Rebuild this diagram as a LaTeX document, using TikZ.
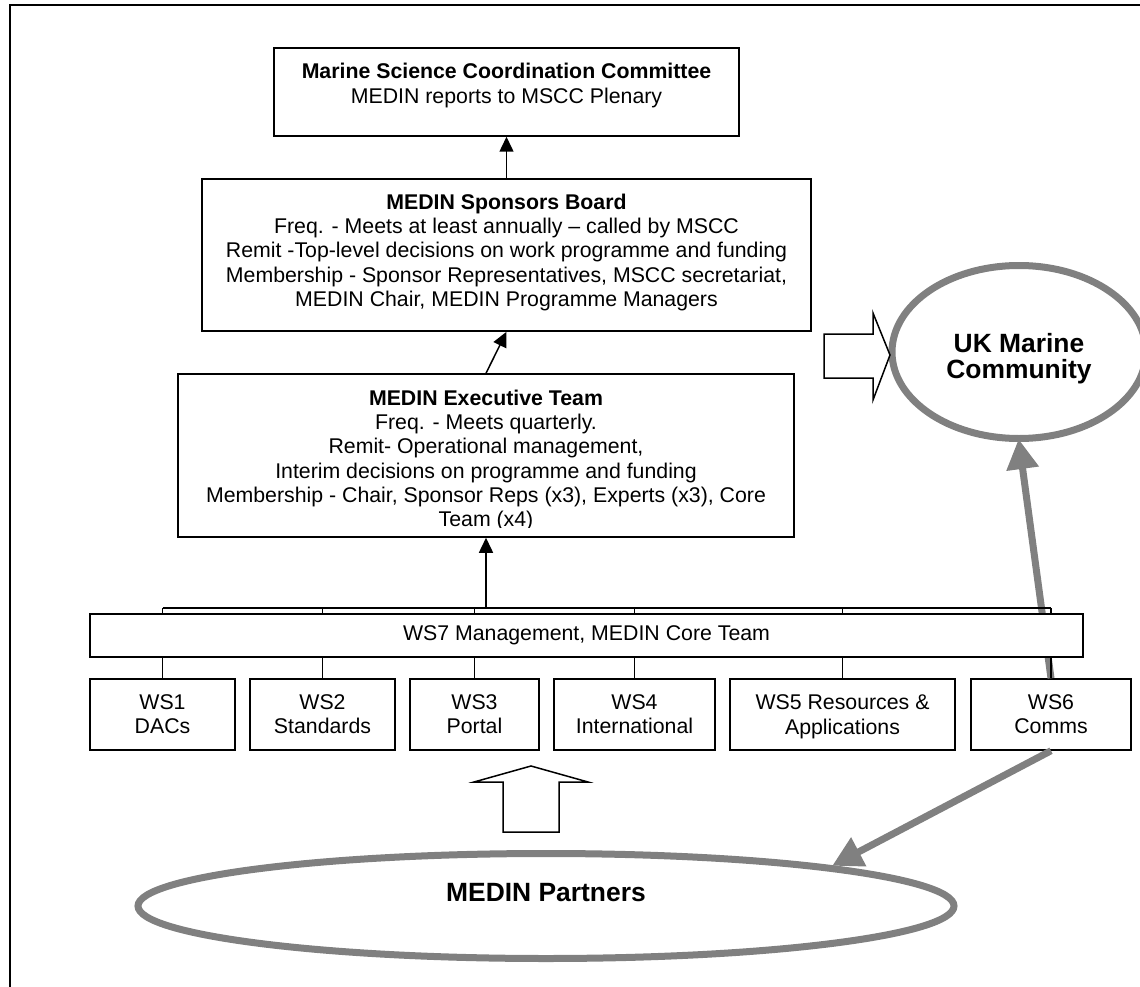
\documentclass[tikz,border=0pt]{standalone}
\usepackage{fontspec}
\setmainfont{Liberation Sans}
\usepackage{tikz}
\usetikzlibrary{
  arrows.meta,
  calc,
  positioning,
  shapes.geometric}
\definecolor{midgray}{HTML}{808080}

\begin{document}
\begin{tikzpicture}[x=1pt,y=-1pt,
    box/.style={draw,line width=1.5pt,fill=white,inner sep=0pt},
    txt/.style={font=\fontsize{21.3}{24.3}\selectfont,align=center,inner sep=0pt},
    arr/.style={line width=1.5pt,-{Triangle[width=14pt,length=15pt]}},
    grayarr/.style={draw=midgray,line width=7pt,-{Triangle[width=31pt,length=30pt]}},
    bubble/.style={ellipse,draw=midgray,line width=7pt,fill=white,inner sep=0pt},
    bubtxt/.style={font=\fontsize{26.4}{26}\selectfont\bfseries,align=center},
    hollow/.style={draw,line width=1.5pt,fill=white,line join=miter}]
    \useasboundingbox (0,0) rectangle (1140,987);
    \clip (0,0) rectangle (1140,987);
    \draw[line width=2pt] (10,5) rectangle (1160,1010);

    % committee boxes
    \node[box,minimum width=465pt,minimum height=88pt] (mscc) at (506.5,92) {};
    \node[txt,below=16pt of mscc.north] (msccTxt)
        {\textbf{Marine Science Coordination Committee}\\MEDIN reports to MSCC Plenary};
    \node[box,minimum width=609pt,minimum height=152pt] (sponsors) at (506.5,255) {};
    \node[txt,below=15.5pt of sponsors.north] (sponsorsTxt)
        {\textbf{MEDIN Sponsors Board}\\
         Freq. - Meets at least annually – called by MSCC\\
         Remit -Top-level decisions on work programme and funding\\
         Membership - Sponsor Representatives, MSCC secretariat,\\
         MEDIN Chair, MEDIN Programme Managers};
    \node[box,minimum width=616pt,minimum height=163pt] (exec) at (486,455.5) {};
    \begin{scope}
        \clip (178,374) rectangle (794,527);
        \node[txt,below=16.5pt of exec.north] (execTxt)
            {\textbf{MEDIN Executive Team}\\
             Freq. - Meets quarterly.\\
             Remit- Operational management,\\
             Interim decisions on programme and funding\\
             Membership - Chair, Sponsor Reps (x3), Experts (x3), Core\\
             Team (x4)};
    \end{scope}

    % communities
    \node[bubble,minimum width=254pt,minimum height=173pt,
          label={[bubtxt,yshift=-6.5pt]center:UK Marine\\Community}]
          (ukmc) at (1019,352) {};
    \node[bubble,minimum width=816pt,minimum height=105pt,
          label={[bubtxt,yshift=13pt]center:MEDIN Partners}]
          (partners) at (546,906) {};

    % work strands
    \foreach \n/\x/\w/\t in {1/162.5/145/{WS1\\DACs},
                             2/322.5/145/{WS2\\Standards},
                             3/474.5/129/{WS3\\Portal},
                             4/634.5/161/{WS4\\International},
                             5/842.5/225/{WS5 Resources \&\\\smash{Applications}},
                             6/1051/160/{WS6\\Comms}}
        \node[box,txt,minimum width=\w pt,minimum height=71pt] (ws\n) at (\x,714.5) {\t};

    \draw[arr] (sponsors.north) -- (mscc.south);
    \draw[arr] (exec.north) -- (sponsors.south);

    \draw[grayarr,shorten >=-3pt] (ws6.north) -- (ukmc.south);
    \draw[grayarr] (ws6.south) -- (partners.8);

    \coordinate (bar) at (486,608);
    \draw[line width=1.5pt] (ws1.north |- bar) -- (ws6.north |- bar);
    \foreach \n in {1,...,6}
        \draw[line width=1.5pt] (ws\n.north) -- (ws\n.north |- bar);
    \draw[arr] (bar) -- (exec.south);

    \node[box,txt,minimum width=993pt,minimum height=43pt] (ws7) at (586.5,635.5)
        {WS7 Management, MEDIN Core Team};

    % block arrows
    \draw[hollow] (824,334) -- (873,334) -- (873,313) -- (890,355)
        -- (873,400) -- (873,378) -- (824,378) -- cycle;
    \draw[hollow] (503,832) -- (503,782) -- (474,782) -- (531,766)
        -- (588,782) -- (559,782) -- (559,832) -- cycle;
\end{tikzpicture}
\end{document}
